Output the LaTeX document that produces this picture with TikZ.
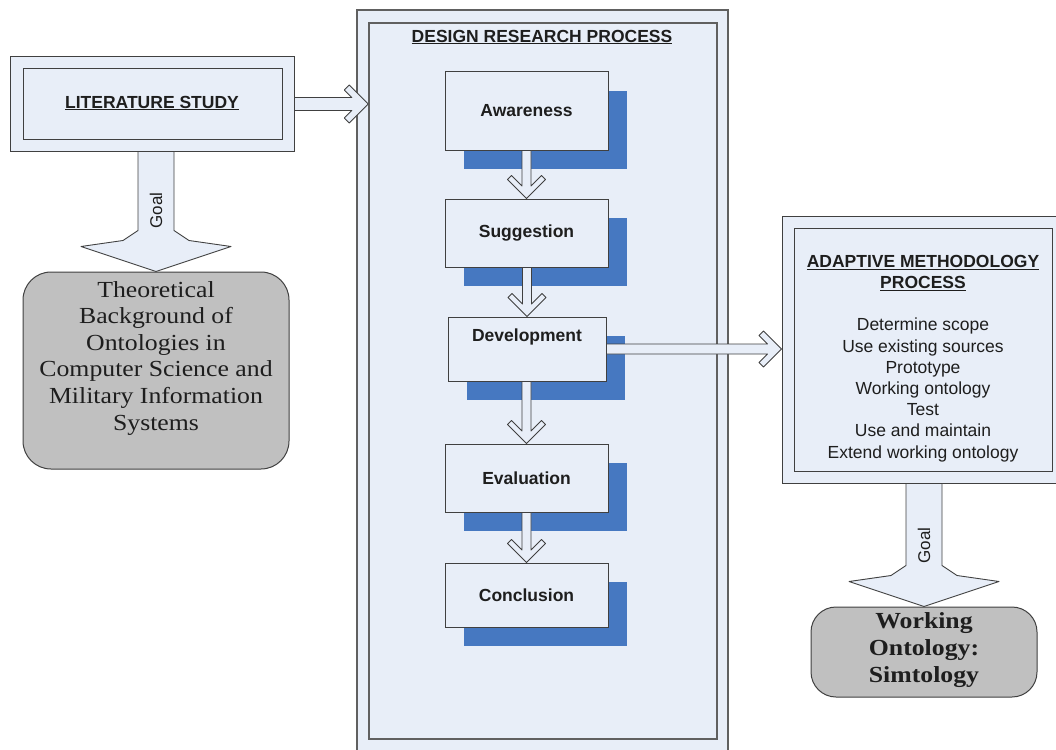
\documentclass[tikz,border=0pt]{standalone}
\usepackage{fontspec}
\setmainfont{Liberation Sans}
\newfontfamily\serifwide[FakeStretch=1.12]{Liberation Serif}
\usetikzlibrary{shadows,calc}

\definecolor{paleblue}{RGB}{232,238,248}
\definecolor{shadeblue}{RGB}{70,120,193}
\definecolor{resultgray}{RGB}{192,192,192}
\definecolor{edgegray}{RGB}{64,64,64}
\definecolor{framegray}{RGB}{96,96,96}
\definecolor{inkgray}{RGB}{30,30,30}

\tikzset{
  every node/.style={text=inkgray},
  frame/.style={draw=framegray, line width=1.3pt, fill=paleblue},
  panel/.style={draw=edgegray, line width=1pt, fill=paleblue},
  stepbox/.style={draw=edgegray, line width=1pt, fill=paleblue, inner sep=0pt,
    font=\bfseries\fontsize{17.5}{21}\selectfont,
    drop shadow={shadow xshift=19pt, shadow yshift=-19pt, fill=shadeblue, opacity=1}},
  result/.style={draw=edgegray, line width=1pt, fill=resultgray, rounded corners=28pt, inner sep=0pt},
  hollow/.style={draw=edgegray, line width=0.9pt, fill=paleblue, line join=round},
  heading/.style={font=\bfseries\fontsize{17.5}{21}\selectfont, align=center},
  goaltext/.style={rotate=90, font=\fontsize{17}{20}\selectfont},
}

% vertical hollow chevron arrow: #1 start, #2 tip
\newcommand{\hollowdown}[2]{%
  \path[hollow] let \p1=(#1), \p2=(#2) in
    (\x2-4.5pt,\y1) -- (\x2-4.5pt,\y2+12.5pt) -- (\x2-15pt,\y2+23pt) -- (\x2-19pt,\y2+19pt)
    -- (\x2,\y2) -- (\x2+19pt,\y2+19pt) -- (\x2+15pt,\y2+23pt) -- (\x2+4.5pt,\y2+12.5pt)
    -- (\x2+4.5pt,\y1) -- cycle;}

% horizontal hollow chevron arrow: #1 start, #2 tip, #3 shaft half width, #4 head half width, #5 rim
\newcommand{\hollowright}[5]{%
  \path[hollow] let \p1=(#1), \p2=(#2) in
    (\x1,\y2+#3pt) -- (\x2-2*#5pt-#3pt,\y2+#3pt) -- (\x2-#4pt-#5pt,\y2+#4pt-#5pt) -- (\x2-#4pt,\y2+#4pt)
    -- (\x2,\y2) -- (\x2-#4pt,\y2-#4pt) -- (\x2-#4pt-#5pt,\y2-#4pt+#5pt) -- (\x2-2*#5pt-#3pt,\y2-#3pt)
    -- (\x1,\y2-#3pt) -- cycle;}

% broad "Goal" arrow: #1 start, #2 tip, #3 label name
\newcommand{\goalarrow}[3]{%
  \path[hollow] let \p1=(#1), \p2=(#2) in
    (\x2-18pt,\y1) -- (\x2-18pt,\y2+41pt) -- (\x2-33pt,\y2+31pt) -- (\x2-75pt,\y2+25pt)
    -- (\x2,\y2) -- (\x2+75pt,\y2+25pt) -- (\x2+33pt,\y2+31pt) -- (\x2+18pt,\y2+41pt)
    -- (\x2+18pt,\y1) -- cycle
    (\x2,\y2+61pt) node[goaltext] (#3) {Goal};}

\begin{document}
\begin{tikzpicture}[x=1pt,y=-1pt]
\useasboundingbox (0,0) rectangle (1056,749);

% design research frame (runs off the bottom edge)
\node[frame, minimum width=371pt, minimum height=760pt, inner sep=0pt] (drout) at (542.5,390) {};
\node[frame, minimum width=348pt, minimum height=716pt, inner sep=0pt] (drin) at (543,381) {};
\node[heading] (drtitle) at (542,37) {\underline{DESIGN RESEARCH PROCESS}};

% process steps
\node[stepbox, minimum width=163pt, minimum height=78pt] (aw) at (526.5,111) {Awareness};
\node[stepbox, minimum width=163pt, minimum height=68pt] (sg) at (526.5,233) {Suggestion};
\node[stepbox, minimum width=158pt, minimum height=64pt,
      label={[font=\bfseries\fontsize{17.5}{21}\selectfont, yshift=12pt]center:Development}] (dv) at (527,349) {};
\node[stepbox, minimum width=163pt, minimum height=68pt] (ev) at (526.5,478) {Evaluation};
\node[stepbox, minimum width=163pt, minimum height=64pt] (co) at (526.5,595) {Conclusion};

\hollowdown{aw.south}{sg.north}
\hollowdown{sg.south}{dv.north}
\hollowdown{dv.south}{ev.north}
\hollowdown{ev.south}{co.north}

% literature study
\node[panel, minimum width=284pt, minimum height=94pt, inner sep=0pt] (litout) at (152,104) {};
\node[panel, minimum width=259pt, minimum height=70pt, inner sep=0pt] (litin) at (152.5,104) {};
\node[heading] (littitle) at (152,103) {\underline{LITERATURE STUDY}};

% theoretical background
\node[result, minimum width=266pt, minimum height=197pt] (theory) at (156,370.5) {};
\node[align=center, font=\serifwide\fontsize{23}{26.6}\selectfont] (theorytext) at (156,358)
  {Theoretical\\Background of\\Ontologies in\\Computer Science and\\Military Information\\Systems};

% adaptive methodology (runs off the right edge)
\node[panel, minimum width=284pt, minimum height=267pt, inner sep=0pt] (adout) at (924,349.5) {};
\node[panel, minimum width=258pt, minimum height=243pt, inner sep=0pt] (adin) at (923,349.5) {};
\node[align=center, font=\fontsize{17.5}{21.2}\selectfont] (adtext) at (923,358.5)
  {{\bfseries\underline{ADAPTIVE METHODOLOGY}}\\{\bfseries\underline{PROCESS}}\\[21.2pt]
   Determine scope\\Use existing sources\\Prototype\\Working ontology\\Test\\Use and maintain\\Extend working ontology};

% working ontology
\node[result, rounded corners=25pt, minimum width=226pt, minimum height=90pt] (work) at (924,652) {};
\node[align=center, font=\serifwide\bfseries\fontsize{23}{27}\selectfont] (worktext) at (924,650)
  {Working\\Ontology:\\Simtology};

% connectors
\hollowright{litout.east}{drin.west |- litout.east}{6.5}{19}{5}
\hollowright{dv.east}{dv.east -| adout.west}{5}{18}{4.5}
\goalarrow{litout.south}{theory.north}{goalleft}
\goalarrow{adout.south}{work.north}{goalright}
\end{tikzpicture}
\end{document}
